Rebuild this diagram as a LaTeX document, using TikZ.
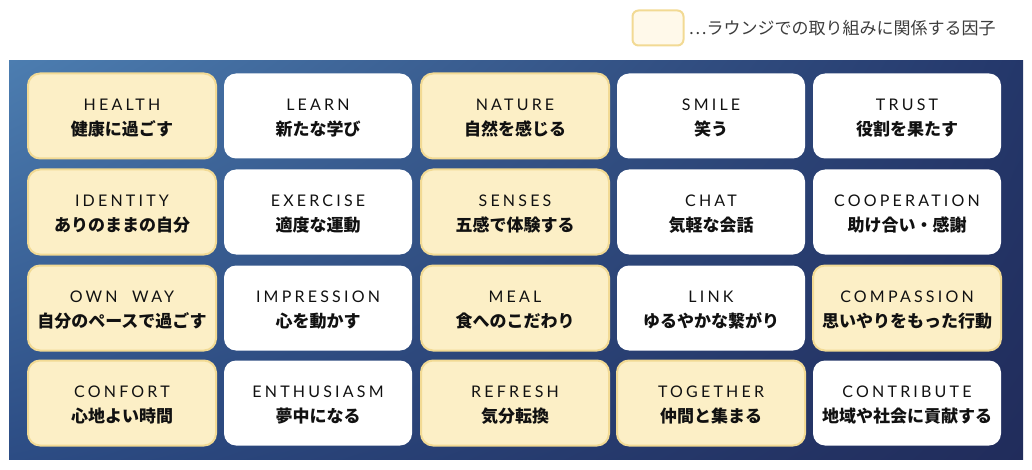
\documentclass[tikz,border=0pt]{standalone}
\usepackage{fontspec}
\setmainfont{Lato}
\newfontfamily\enfont{Lato}[LetterSpace=20]
\newfontfamily\jpfont{Noto Sans CJK JP}
\usetikzlibrary{positioning,shadings}
\definecolor{LgPanelUL}{HTML}{4C7DB0}
\definecolor{LgPanelUR}{HTML}{24376A}
\definecolor{LgPanelLL}{HTML}{2C4C84}
\definecolor{LgPanelLR}{HTML}{212C5B}
\definecolor{LgCream}{HTML}{FCEFC6}
\definecolor{LgGold}{HTML}{F2DA94}
\definecolor{LgKeyFill}{HTML}{FFF9EA}
\definecolor{LgInk}{HTML}{111111}
\definecolor{LgGray}{HTML}{3C3C3C}
\newcommand{\factor}[2]{{\enfont\rule{0pt}{16pt}#1}\\{\jpfont\bfseries\fontsize{17pt}{25pt}\selectfont #2}}
\tikzset{
  lg/factor/.style={
    rounded corners=12pt,
    minimum width=188pt,
    minimum height=85pt,
    inner sep=0pt,
    align=center,
    text=LgInk,
    font=\fontsize{16pt}{25pt}\selectfont
  },
  lg/lounge/.style={
    lg/factor,
    draw=LgGold,
    line width=2pt,
    fill=LgCream
  },
  lg/other/.style={
    lg/factor,
    fill=white
  },
  lg/key/.style={
    rounded corners=6pt,
    draw=LgGold,
    line width=2pt,
    fill=LgKeyFill,
    minimum width=51pt,
    minimum height=35pt,
    inner sep=0pt
  },
  lg/keytext/.style={
    inner sep=0pt,
    text=LgGray,
    font=\jpfont\fontsize{17pt}{20pt}\selectfont
  }
}

\begin{document}
\begin{tikzpicture}[x=1pt,y=-1pt]
  \useasboundingbox (0,0) rectangle (1032,470);
  % legend
  \node[lg/key] (key) at (658,28) {};
  \node[lg/keytext,right=4pt of key] (keytext) {…ラウンジでの取り組みに関係する因子};
  % panel
  \shade[upper left=LgPanelUL,upper right=LgPanelUR,lower left=LgPanelLL,lower right=LgPanelLR]
    (9,61) rectangle (1023,459);
  % row 1
  \node[lg/lounge] (health) at (122,116) {\factor{HEALTH}{健康に過ごす}};
  \node[lg/other] (learn) at (318,116) {\factor{LEARN}{新たな学び}};
  \node[lg/lounge] (nature) at (515,116) {\factor{NATURE}{自然を感じる}};
  \node[lg/other] (smile) at (711,116) {\factor{SMILE}{笑う}};
  \node[lg/other] (trust) at (907,116) {\factor{TRUST}{役割を果たす}};
  % row 2
  \node[lg/lounge] (identity) at (122,212) {\factor{IDENTITY}{ありのままの自分}};
  \node[lg/other] (exercise) at (318,212) {\factor{EXERCISE}{適度な運動}};
  \node[lg/lounge] (senses) at (515,212) {\factor{SENSES}{五感で体験する}};
  \node[lg/other] (chat) at (711,212) {\factor{CHAT}{気軽な会話}};
  \node[lg/other] (cooperation) at (907,212) {\factor{COOPERATION}{助け合い・感謝}};
  % row 3
  \node[lg/lounge] (ownway) at (122,308) {\factor{OWN\ \ WAY}{自分のペースで過ごす}};
  \node[lg/other] (impression) at (318,308) {\factor{IMPRESSION}{心を動かす}};
  \node[lg/lounge] (meal) at (515,308) {\factor{MEAL}{食へのこだわり}};
  \node[lg/other] (link) at (711,308) {\factor{LINK}{ゆるやかな繋がり}};
  \node[lg/lounge] (compassion) at (907,308) {\factor{COMPASSION}{思いやりをもった行動}};
  % row 4
  \node[lg/lounge] (confort) at (122,403) {\factor{CONFORT}{心地よい時間}};
  \node[lg/other] (enthusiasm) at (318,403) {\factor{ENTHUSIASM}{夢中になる}};
  \node[lg/lounge] (refresh) at (515,403) {\factor{REFRESH}{気分転換}};
  \node[lg/lounge] (together) at (711,403) {\factor{TOGETHER}{仲間と集まる}};
  \node[lg/other] (contribute) at (907,403) {\factor{CONTRIBUTE}{地域や社会に貢献する}};
\end{tikzpicture}
\end{document}
